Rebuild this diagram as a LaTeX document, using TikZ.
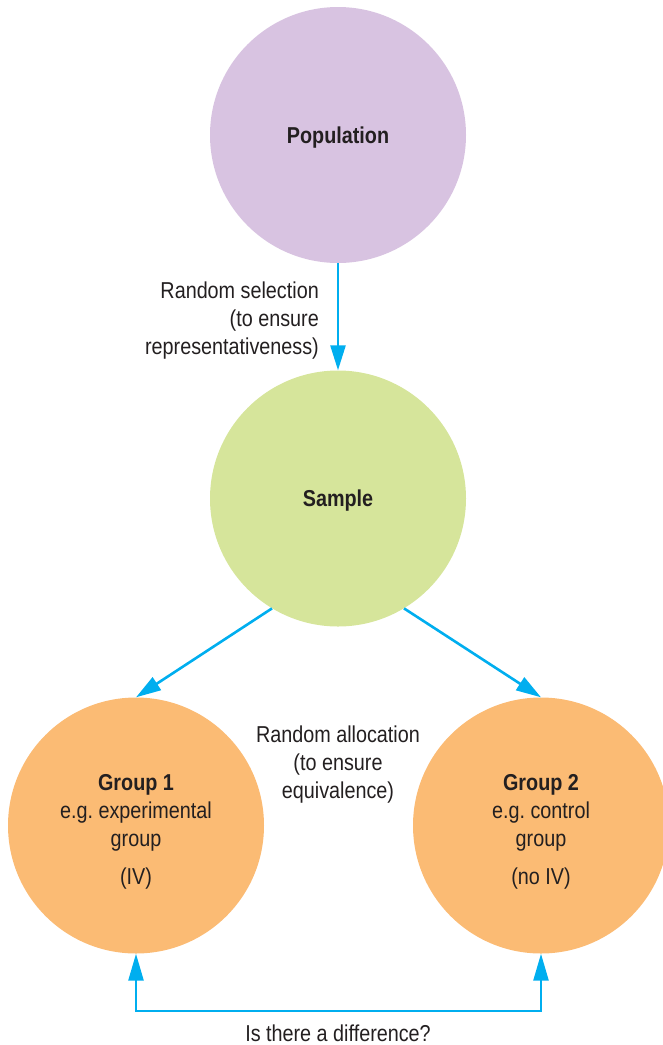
\documentclass[tikz,border=0pt]{standalone}
\usepackage{fontspec}
\setmainfont{Liberation Sans}[FakeStretch=0.86]
\usetikzlibrary{arrows.meta}

\definecolor{popfill}{HTML}{D8C3E1}
\definecolor{samfill}{HTML}{D6E59B}
\definecolor{grpfill}{HTML}{FBBB74}
\definecolor{linkblue}{HTML}{00AEEF}
\definecolor{inkdark}{HTML}{231F20}

\frenchspacing

\tikzset{
  blob/.style={circle, minimum size=256pt, inner sep=0pt, draw=none},
  txt/.style={text=inkdark, font=\fontsize{23}{28}\selectfont, inner sep=0pt},
  conn/.style={draw=linkblue, line width=2.6pt,
    -{Triangle[length=25pt,width=15pt]}},
  connboth/.style={draw=linkblue, line width=2.6pt,
    {Triangle[length=27pt,width=15pt]}-{Triangle[length=27pt,width=15pt]}},
}

\begin{document}
\begin{tikzpicture}[x=1pt,y=-1pt]
  \useasboundingbox (0,0) rectangle (663,1045);

  % circles
  \node[blob, fill=popfill] (pop) at (338,135) {};
  \node[blob, fill=samfill] (sam) at (338,498.5) {};
  \node[blob, fill=grpfill] (g1) at (136,825.5) {};
  \node[blob, fill=grpfill] (g2) at (541,825.5) {};

  % texts inside the circles
  \node[txt, font=\fontsize{23}{28}\selectfont\bfseries] (poptext) at (338,137.5) {Population};
  \node[txt, font=\fontsize{23}{28}\selectfont\bfseries] (samtext) at (338,501) {Sample};
  \node[txt, align=center] (g1text) at (136,832)
    {\textbf{Group 1}\\e.g. experimental\\group\\[10pt](IV)};
  \node[txt, align=center] (g2text) at (541,832)
    {\textbf{Group 2}\\e.g. control\\group\\[10pt](no IV)};

  % side labels
  \node[txt, align=right, anchor=east] (sel) at (319,320.5)
    {Random selection\\(to ensure\\representativeness)};
  \node[txt, align=center] (alloc) at (338,764.5)
    {Random allocation\\(to ensure\\equivalence)};
  \node[txt] (diff) at (338,1033) {Is there a difference?};

  % connectors
  \draw[conn] (pop) -- (sam);
  \draw[conn] (sam.239) -- (g1.north);
  \draw[conn] (sam.301) -- (g2.north);

  \coordinate (bl) at (136,1011);
  \coordinate (br) at (541,1011);
  \draw[connboth] (g1.south) -- (bl) -- (br) -- (g2.south);
\end{tikzpicture}
\end{document}
